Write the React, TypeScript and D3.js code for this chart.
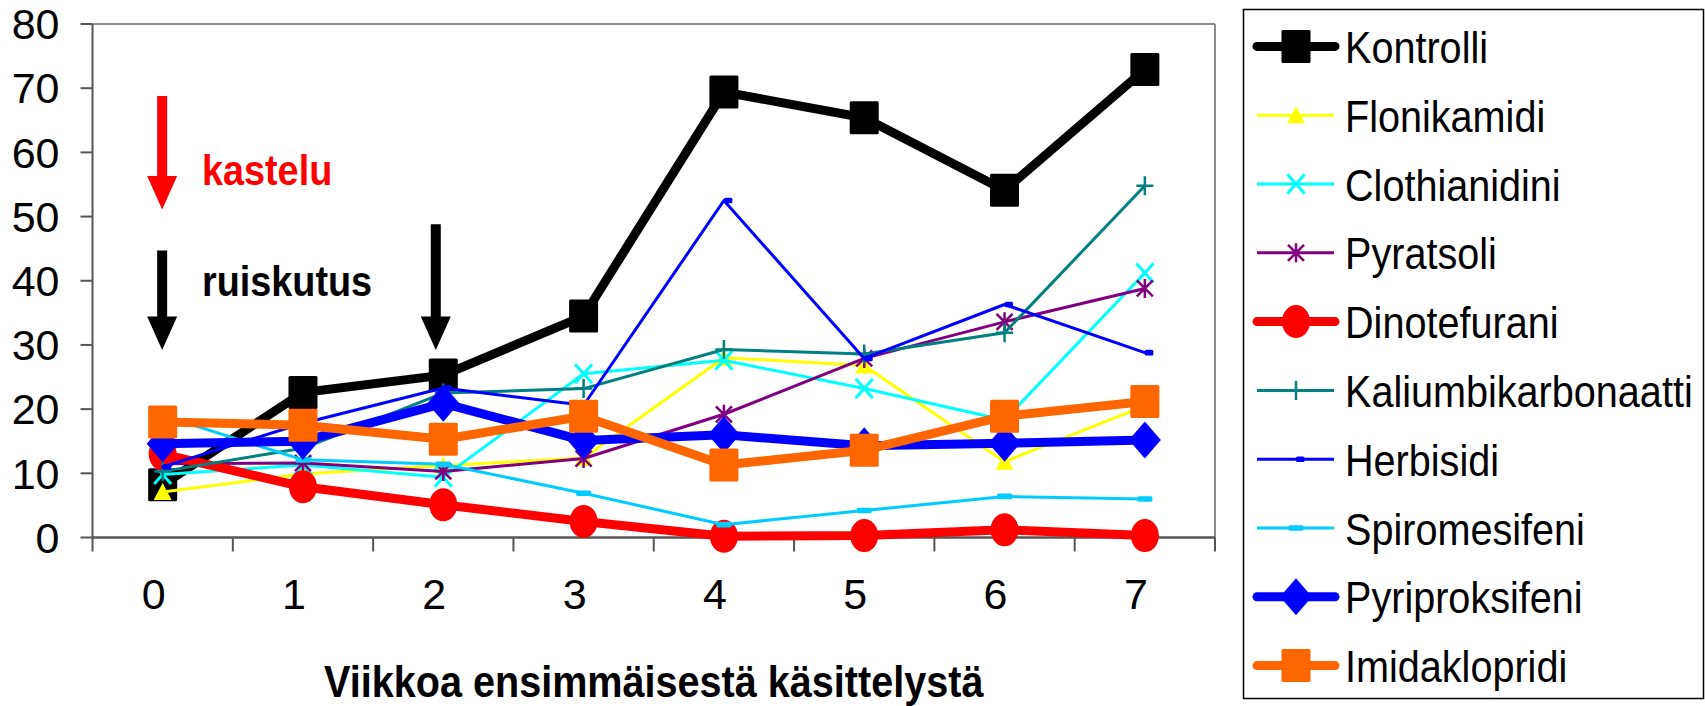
import React from "react";
import * as d3 from "d3";

// Weeks since the first treatment
const weeks = [0, 1, 2, 3, 4, 5, 6, 7];
const yTicks = [0, 10, 20, 30, 40, 50, 60, 70, 80];

// Series values per week
const kontrolli = [8.2, 22.6, 25.3, 34.5, 69.4, 65.4, 54.1, 72.9];
const flonikamidi = [7.1, 9.9, 11.2, 12.4, 28.0, 26.8, 11.8, 20.5];
const clothianidini = [9.8, 11.3, 9.4, 25.5, 27.6, 23.2, 18.3, 41.2];
const pyratsoli = [11.5, 11.6, 10.3, 12.3, 19.2, 27.9, 33.6, 38.8];
const dinotefurani = [13.0, 7.9, 5.1, 2.5, 0.2, 0.3, 1.2, 0.3];
const kaliumbikarbonaatti = [10.3, 13.9, 22.5, 23.2, 29.3, 28.6, 31.9, 54.8];
const herbisidi = [11.0, 17.8, 23.3, 20.6, 52.5, 27.9, 36.3, 28.8];
const spiromesifeni = [19.0, 12.1, 11.4, 6.9, 2.0, 4.2, 6.4, 6.0];
const pyriproksifeni = [14.6, 15.0, 20.9, 15.1, 16.0, 14.3, 14.7, 15.2];
const imidaklopridi = [18.0, 17.5, 15.3, 18.9, 11.3, 13.6, 18.9, 21.2];

type Shape = "square" | "triangle" | "x" | "star" | "circle" | "plus" | "dash" | "bar" | "diamond";

const series: { name: string; values: number[]; color: string; width: number; shape: Shape }[] = [
  { name: "Kontrolli", values: kontrolli, color: "#000000", width: 9, shape: "square" },
  { name: "Flonikamidi", values: flonikamidi, color: "#FFFF00", width: 3, shape: "triangle" },
  { name: "Clothianidini", values: clothianidini, color: "#00FFFF", width: 3, shape: "x" },
  { name: "Pyratsoli", values: pyratsoli, color: "#800080", width: 3, shape: "star" },
  { name: "Dinotefurani", values: dinotefurani, color: "#FF0000", width: 9, shape: "circle" },
  { name: "Kaliumbikarbonaatti", values: kaliumbikarbonaatti, color: "#008080", width: 3, shape: "plus" },
  { name: "Herbisidi", values: herbisidi, color: "#0000FF", width: 3, shape: "dash" },
  { name: "Spiromesifeni", values: spiromesifeni, color: "#00CCFF", width: 3, shape: "bar" },
  { name: "Pyriproksifeni", values: pyriproksifeni, color: "#0000FF", width: 9, shape: "diamond" },
  { name: "Imidaklopridi", values: imidaklopridi, color: "#FF6600", width: 9, shape: "square" },
];

const FONT = "'Liberation Sans', Arial, Helvetica, sans-serif";
const SQUEEZE = 0.9;

const plot = { left: 92.5, right: 1215, top: 24, bottom: 537.5 };

const x = d3
  .scaleBand<number>()
  .domain(weeks)
  .range([plot.left, plot.right])
  .paddingInner(0)
  .paddingOuter(0);
const cx = (w: number) => (x(w) as number) + x.bandwidth() / 2;
const y = d3.scaleLinear().domain([0, 80]).range([plot.bottom, plot.top]);

function Marker({ shape, px, py, color }: { shape: Shape; px: number; py: number; color: string }) {
  switch (shape) {
    case "square":
      return <rect x={px - 14.5} y={py - 16.5} width={29} height={33} rx={1.5} fill={color} />;
    case "circle":
      return <ellipse cx={px} cy={py} rx={14} ry={16.5} fill={color} />;
    case "diamond":
      return (
        <path d={`M${px},${py - 18.5}L${px + 16},${py}L${px},${py + 18.5}L${px - 16},${py}Z`} fill={color} />
      );
    case "triangle":
      return <path d={`M${px},${py - 9}L${px + 9},${py + 8}L${px - 9},${py + 8}Z`} fill={color} />;
    case "x":
      return (
        <path
          d={`M${px - 8.5},${py - 9.5}L${px + 8.5},${py + 9.5}M${px + 8.5},${py - 9.5}L${px - 8.5},${py + 9.5}`}
          stroke={color}
          strokeWidth={3}
          fill="none"
        />
      );
    case "star":
      return (
        <path
          d={`M${px},${py - 9.5}L${px},${py + 9.5}M${px - 8},${py - 8}L${px + 8},${py + 8}M${px + 8},${py - 8}L${px - 8},${py + 8}`}
          stroke={color}
          strokeWidth={2.5}
          fill="none"
        />
      );
    case "plus":
      return (
        <path
          d={`M${px},${py - 9.5}L${px},${py + 9.5}M${px - 8.5},${py}L${px + 8.5},${py}`}
          stroke={color}
          strokeWidth={2.5}
          fill="none"
        />
      );
    case "dash":
      return <rect x={px} y={py - 2.8} width={8.5} height={5.6} rx={1.5} fill={color} />;
    case "bar":
      return <rect x={px - 7.5} y={py - 2.8} width={15} height={5.6} rx={1.5} fill={color} />;
  }
}

function Narrow({
  tx,
  ty,
  children,
  size,
  weight,
  fill,
  anchor,
}: {
  tx: number;
  ty: number;
  children: React.ReactNode;
  size: number;
  weight?: string;
  fill?: string;
  anchor?: "start" | "middle" | "end";
}) {
  return (
    <g transform={`translate(${tx},${ty}) scale(${SQUEEZE},1)`}>
      <text
        x={0}
        y={0}
        fontFamily={FONT}
        fontSize={size}
        fontWeight={weight ?? "normal"}
        fill={fill ?? "#000"}
        textAnchor={anchor ?? "start"}
      >
        {children}
      </text>
    </g>
  );
}

function DownArrow({ ax, top, tip, color }: { ax: number; top: number; tip: number; color: string }) {
  const headTop = tip - 33.5;
  return (
    <path
      d={`M${ax - 5},${top}L${ax + 5},${top}L${ax + 5},${headTop}L${ax + 15},${headTop}L${ax},${tip}L${ax - 15},${headTop}L${ax - 5},${headTop}Z`}
      fill={color}
    />
  );
}

export default function App() {
  const line = d3
    .line<number>()
    .x((_, i) => cx(weeks[i]))
    .y((v) => y(v));

  const legend = { x: 1243.5, y: 9.5, w: 460, h: 689, row0: 46.4, step: 68.8 };

  return (
    <svg
      width={1705}
      height={706}
      style={{ position: "absolute", left: 0, top: 0, background: "#fff" }}
    >
      <rect x={0} y={0} width={1705} height={706} fill="#fff" />

      {/* plot frame */}
      <line x1={plot.left} x2={plot.right} y1={plot.top} y2={plot.top} stroke="#8c8c8c" strokeWidth={2} />
      <line x1={plot.right} x2={plot.right} y1={plot.top} y2={plot.bottom} stroke="#8c8c8c" strokeWidth={2} />

      {/* y axis */}
      <line x1={plot.left} x2={plot.left} y1={plot.top} y2={plot.bottom} stroke="#555" strokeWidth={2} />
      {yTicks.map((t) => (
        <g key={t}>
          <line x1={plot.left - 12} x2={plot.left} y1={y(t)} y2={y(t)} stroke="#555" strokeWidth={2} />
          <text
            x={59.5}
            y={y(t) + 15.3}
            textAnchor="end"
            fontFamily={FONT}
            fontSize={43}
            fill="#000"
          >
            {t}
          </text>
        </g>
      ))}

      {/* x axis */}
      <line x1={plot.left} x2={plot.right} y1={plot.bottom} y2={plot.bottom} stroke="#555" strokeWidth={2.5} />
      {[...weeks.map((w) => x(w) as number), plot.right].map((bx, i) => (
        <line key={i} x1={bx} x2={bx} y1={plot.bottom} y2={plot.bottom + 14} stroke="#555" strokeWidth={2} />
      ))}
      {weeks.map((w) => (
        <text
          key={w}
          x={cx(w) - 9}
          y={608.5}
          textAnchor="middle"
          fontFamily={FONT}
          fontSize={43}
          fill="#000"
        >
          {w}
        </text>
      ))}
      <Narrow tx={(plot.left + plot.right) / 2} ty={697} size={44} weight="bold" anchor="middle">
        Viikkoa ensimmäisestä käsittelystä
      </Narrow>

      {/* treatment annotations */}
      <DownArrow ax={cx(0) - 0.5} top={y(68.8)} tip={y(51.1)} color="#FF0000" />
      <Narrow tx={202} ty={185} size={42} weight="bold" fill="#FF0000">
        kastelu
      </Narrow>
      <DownArrow ax={cx(0) - 0.5} top={y(44.7)} tip={y(29.2)} color="#000" />
      <DownArrow ax={cx(2) - 7.5} top={y(48.8)} tip={y(29.2)} color="#000" />
      <Narrow tx={202} ty={296} size={42} weight="bold" fill="#000">
        ruiskutus
      </Narrow>

      {/* series */}
      {series.map((s) => (
        <g key={s.name}>
          <path
            d={line(s.values) ?? ""}
            fill="none"
            stroke={s.color}
            strokeWidth={s.width}
            strokeLinejoin="round"
            strokeLinecap="round"
          />
          {s.values.map((v, i) => (
            <Marker key={i} shape={s.shape} px={cx(weeks[i])} py={y(v)} color={s.color} />
          ))}
        </g>
      ))}

      {/* legend */}
      <rect
        x={legend.x}
        y={legend.y}
        width={legend.w}
        height={legend.h}
        fill="#fff"
        stroke="#000"
        strokeWidth={1.5}
      />
      {series.map((s, i) => {
        const ly = legend.row0 + i * legend.step;
        const thick = s.width > 5;
        return (
          <g key={s.name}>
            <line
              x1={thick ? 1257 : 1257}
              x2={thick ? 1335 : 1334}
              y1={ly}
              y2={ly}
              stroke={s.color}
              strokeWidth={s.width}
              strokeLinecap={thick ? "round" : "butt"}
            />
            <Marker shape={s.shape} px={1296} py={ly} color={s.color} />
            <Narrow tx={1345} ty={ly + 16.6} size={44}>
              {s.name}
            </Narrow>
          </g>
        );
      })}
    </svg>
  );
}
